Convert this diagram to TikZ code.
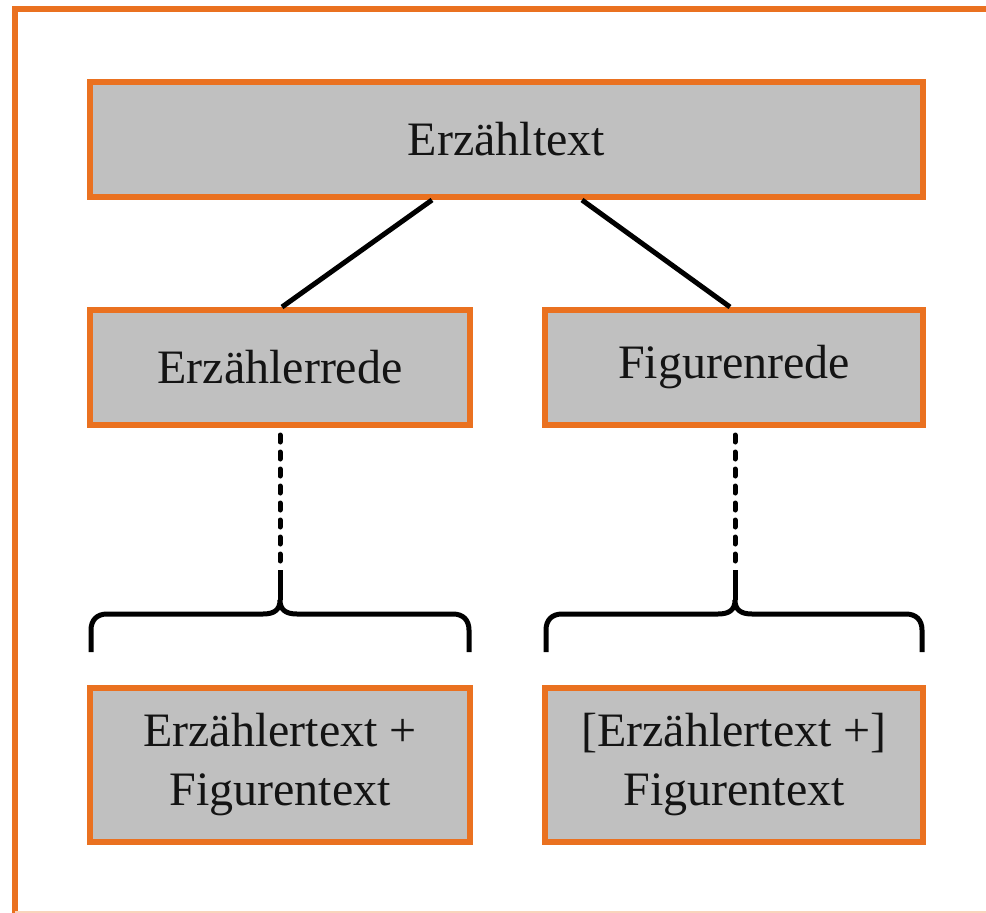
\documentclass[tikz,border=0pt]{standalone}
\usepackage{fontspec}
\setmainfont{Liberation Serif}
\usetikzlibrary{calc}
\definecolor{frameorange}{RGB}{234,113,32}
\definecolor{boxgray}{RGB}{192,192,192}
\tikzset{
  box/.style={draw=frameorange, line width=6pt, fill=boxgray, rectangle,
    inner sep=0pt, align=center, text=black!92,
    font=\fontsize{48}{59}\selectfont},
  conn/.style={draw=black, line width=5pt},
  dotconn/.style={draw=black, line width=5pt, line cap=round, dash pattern=on 7pt off 10pt},
  outerframe/.style={draw=frameorange, line width=6pt}
}
\begin{document}
\begin{tikzpicture}[x=1pt,y=-1pt]
\useasboundingbox (0,0) rectangle (986,913);
\clip (0,0) rectangle (986,913);
\draw[outerframe] (1010,9) -- (15,9) -- (15,913);
\draw[draw=frameorange!30, line width=3pt] (15,912) -- (1010,912);

\node[box, minimum width=833pt, minimum height=115pt] (top) at (506.5,139.5) {Erzähltext};
\node[box, minimum width=380pt, minimum height=115pt] (erz) at (280,367.5) {Erzählerrede};
\node[box, minimum width=378pt, minimum height=115pt] (fig) at (734,367.5) {Figurenrede};
\node[box, minimum width=380pt, minimum height=154pt] (erzt) at (280,765) {Erzählertext +\\Figurentext};
\node[box, minimum width=378pt, minimum height=154pt] (figt) at (734,765) {[Erzählertext +]\\Figurentext};

% connectors from top box
\draw[conn] ($(top.south)+(-74.5,0)$) -- ($(erz.north)+(2,0)$);
\draw[conn] ($(top.south)+(75.5,0)$) -- ($(fig.north)+(-4,0)$);

% left brace
\coordinate (ltip) at (280,600);
\coordinate (lsolid) at (280,570);
\draw[dotconn] ($(erz.south)+(0,7)$) -- (lsolid);
\draw[conn] (lsolid) -- (ltip);
\draw[conn] (91,652) -- (91,630) .. controls (91,620) and (97,614) .. (107,614)
  -- (263,614) .. controls (274,614) and (280,610) .. (ltip)
  .. controls (280,610) and (286,614) .. (297,614)
  -- (453,614) .. controls (463,614) and (469,620) .. (469,630) -- (469,652);

% right brace
\coordinate (rtip) at (735,600);
\coordinate (rsolid) at (735,570);
\draw[dotconn] ($(fig.south -| rsolid)+(0,7)$) -- (rsolid);
\draw[conn] (rsolid) -- (rtip);
\draw[conn] (546,652) -- (546,630) .. controls (546,620) and (552,614) .. (562,614)
  -- (718,614) .. controls (729,614) and (735,610) .. (rtip)
  .. controls (735,610) and (741,614) .. (752,614)
  -- (906,614) .. controls (916,614) and (922,620) .. (922,630) -- (922,652);
\end{tikzpicture}
\end{document}
